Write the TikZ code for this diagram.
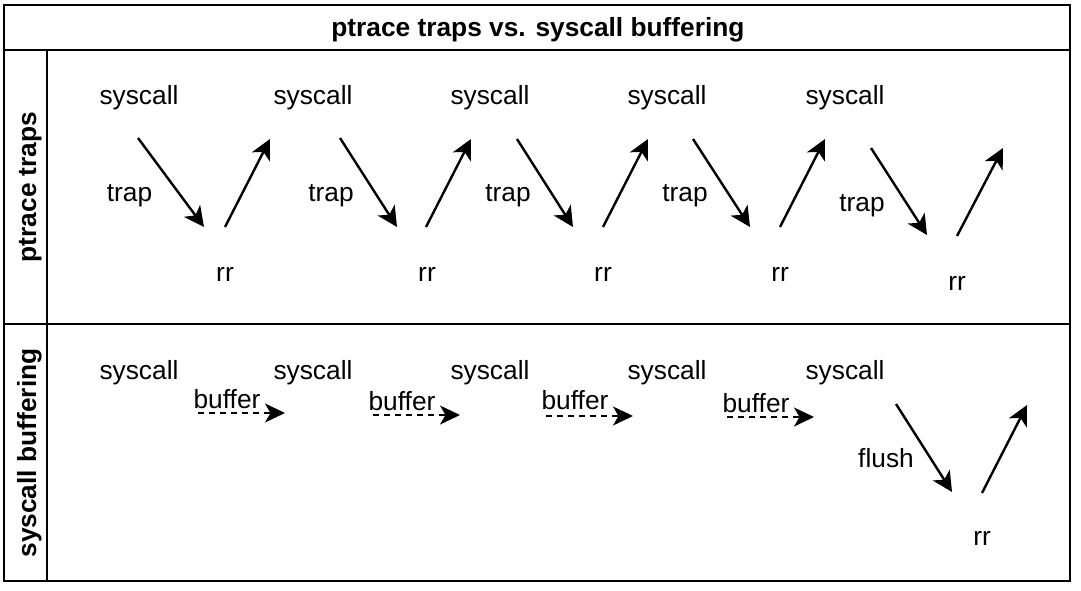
\documentclass[tikz,border=0pt]{standalone}
\usepackage{fontspec}
\setmainfont{Liberation Sans}
\usetikzlibrary{arrows.meta}
\begin{document}
\begin{tikzpicture}[x=1pt,y=-1pt,
  lbl/.style={inner sep=0pt, anchor=base, font=\fontsize{26.3}{31}\selectfont},
  ttl/.style={inner sep=0pt, anchor=base, font=\fontsize{26.3}{31}\selectfont\bfseries},
  frame/.style={line width=2.5pt, draw=black},
  arr/.style={line width=2.4pt, -{Stealth[length=20pt,width=20pt,inset=5.5pt]}},
  darr/.style={line width=2pt, dash pattern=on 6pt off 5pt, -{Stealth[length=20pt,width=19pt,inset=5.5pt]}}]
\fill[white] (0,0) rectangle (1081,591);
\useasboundingbox (0,0) rectangle (1081,591);
% frame
\draw[frame] (4,5) rectangle (1070,581);
\draw[frame] (4,50) -- (1070,50);
\draw[frame] (4,324) -- (1070,324);
\draw[frame] (47,50) -- (47,581);
% titles
\node[ttl] (title) at (538,37) {ptrace traps vs. syscall buffering};
\node[ttl, rotate=90] (lane1) at (36,187) {ptrace traps};
\node[ttl, rotate=90] (lane2) at (36,453) {syscall buffering};
% top lane texts
\node[lbl] (s1) at (139,104.5) {syscall};
\node[lbl] (s2) at (313,104.5) {syscall};
\node[lbl] (s3) at (490,104.5) {syscall};
\node[lbl] (s4) at (667,104.5) {syscall};
\node[lbl] (s5) at (845,104.5) {syscall};
\node[lbl] (t1) at (129.5,201) {trap};
\node[lbl] (t2) at (331,201) {trap};
\node[lbl] (t3) at (508,201) {trap};
\node[lbl] (t4) at (685,201) {trap};
\node[lbl] (t5) at (862,211) {trap};
\node[lbl] (r1) at (225,281.5) {rr};
\node[lbl] (r2) at (427,281.5) {rr};
\node[lbl] (r3) at (603,281.5) {rr};
\node[lbl] (r4) at (780,281.5) {rr};
\node[lbl] (r5) at (957,290) {rr};
% top lane arrow endpoints
\coordinate (d1a) at (138,138); \coordinate (d1b) at (204,227);
\coordinate (u1a) at (225,227); \coordinate (u1b) at (270,139);
\coordinate (d2a) at (340,138); \coordinate (d2b) at (397,227);
\coordinate (u2a) at (426,227); \coordinate (u2b) at (471,139);
\coordinate (d3a) at (517,139); \coordinate (d3b) at (573,227);
\coordinate (u3a) at (603,227); \coordinate (u3b) at (648,139);
\coordinate (d4a) at (693,139); \coordinate (d4b) at (750,227);
\coordinate (u4a) at (780,227); \coordinate (u4b) at (825,139);
\coordinate (d5a) at (871,148); \coordinate (d5b) at (927,235);
\coordinate (u5a) at (957,236); \coordinate (u5b) at (1003,148);
\foreach \i in {1,...,5} {
  \draw[arr] (d\i a) -- (d\i b);
  \draw[arr] (u\i a) -- (u\i b);
}
% bottom lane texts
\node[lbl] (b1) at (139,379.5) {syscall};
\node[lbl] (b2) at (313,379.5) {syscall};
\node[lbl] (b3) at (490,379.5) {syscall};
\node[lbl] (b4) at (667,379.5) {syscall};
\node[lbl] (b5) at (845,379.5) {syscall};
\node[lbl] (f1) at (227,408.5) {buffer};
\node[lbl] (f2) at (402,410.5) {buffer};
\node[lbl] (f3) at (575,409.5) {buffer};
\node[lbl] (f4) at (756,412.5) {buffer};
\node[lbl] (fl) at (886,467.5) {flush};
\node[lbl] (rb) at (982,545.5) {rr};
% bottom lane arrow endpoints
\coordinate (e1a) at (198,413); \coordinate (e1b) at (285,413);
\coordinate (e2a) at (373,415); \coordinate (e2b) at (460,415);
\coordinate (e3a) at (546,416); \coordinate (e3b) at (633,416);
\coordinate (e4a) at (727,417); \coordinate (e4b) at (814,417);
\foreach \i in {1,...,4} {
  \draw[darr] (e\i a) -- (e\i b);
}
\coordinate (fda) at (896,404); \coordinate (fdb) at (952,492);
\coordinate (fua) at (982,493); \coordinate (fub) at (1027,405);
\draw[arr] (fda) -- (fdb);
\draw[arr] (fua) -- (fub);
\end{tikzpicture}
\end{document}
